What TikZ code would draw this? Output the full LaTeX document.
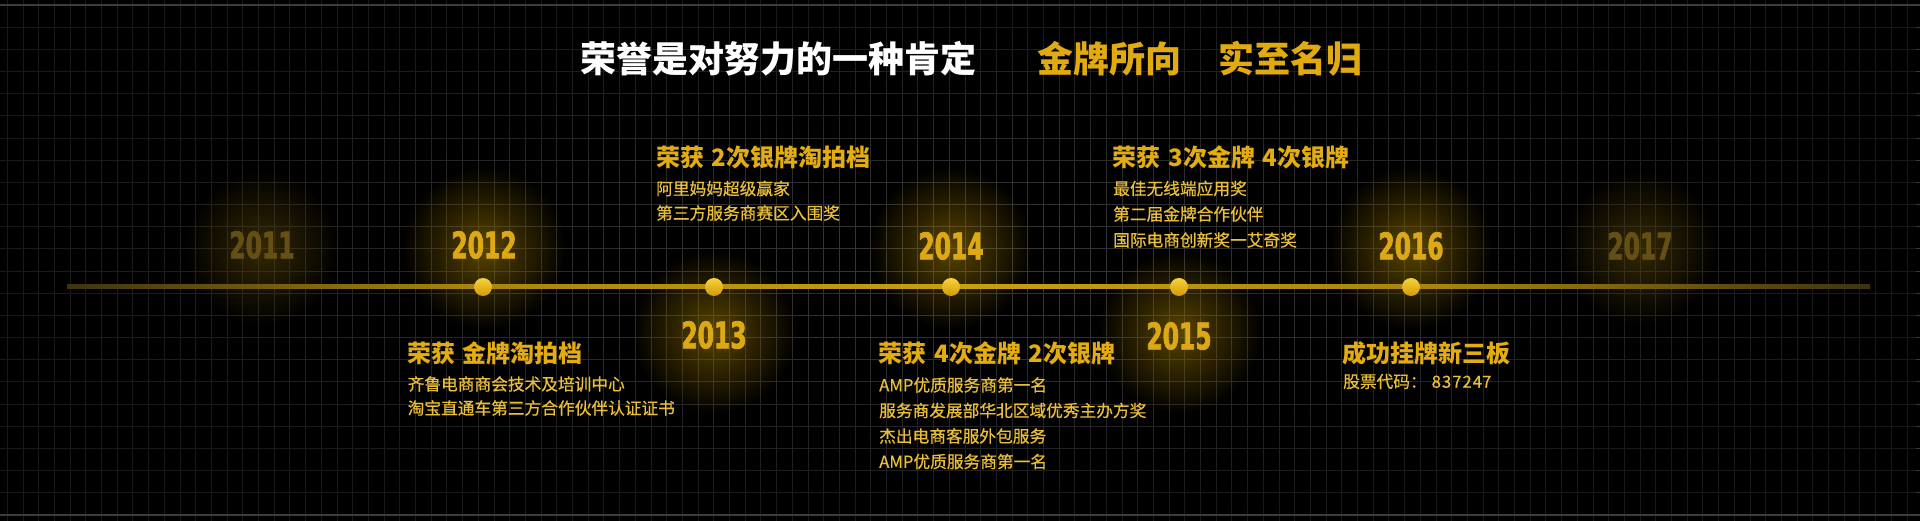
\documentclass[tikz,border=0pt]{standalone}
\usepackage{fontspec}
\usepackage{graphicx}
\newfontfamily\cjk{Noto Sans CJK SC}
\newfontfamily\cjkbody{Noto Sans CJK SC}[FakeBold=0.6]
\newfontfamily\yearfont{DejaVu Sans Bold}[FakeStretch=0.64,FakeBold=2]
\usetikzlibrary{fadings}
\definecolor{gridc}{HTML}{383838}
\definecolor{edgec}{HTML}{3C3C3C}
\definecolor{headc}{HTML}{E2AC12}
\definecolor{headtop}{HTML}{F6CA2A}
\definecolor{headbot}{HTML}{BF8804}
\definecolor{bodyc}{HTML}{E9BE3A}
\definecolor{goldc}{HTML}{E0AA10}
\definecolor{goldtop}{HTML}{F4C622}
\definecolor{goldbot}{HTML}{C48E02}
\definecolor{yearc}{HTML}{DCA816}
\definecolor{yeartop}{HTML}{F6CC30}
\definecolor{yearbot}{HTML}{A87806}
\definecolor{yeardim}{HTML}{645014}
\definecolor{dimtop}{HTML}{7A651C}
\definecolor{dimbot}{HTML}{3E320C}
\definecolor{glowc}{HTML}{9A7600}
\definecolor{glowdim}{HTML}{5A4608}
\definecolor{lineend}{HTML}{3E330C}
\definecolor{lineside}{HTML}{A8840E}
\definecolor{linemid}{HTML}{C89E12}
\definecolor{dottop}{HTML}{F8D23C}
\definecolor{dotbot}{HTML}{D09A08}
\pgfdeclarehorizontalshading{lineshade}{100bp}{color(0bp)=(lineend); color(25bp)=(lineend); color(36bp)=(lineside); color(50bp)=(linemid); color(63bp)=(lineside); color(75bp)=(lineend); color(100bp)=(lineend)}
\tikzfading[name=vig, inner color=transparent!100, outer color=transparent!45]
\tikzfading[name=glowfade, inner color=transparent!42, outer color=transparent!100]
\newcommand\hsp{\hspace{0.32em}}
\newcommand\ttlfont{\cjk\bfseries\fontsize{36}{40}\selectfont}
\newcommand\headfont{\cjk\bfseries\fontsize{24}{28}\selectfont}
\newcommand\yrfont{\yearfont\fontsize{36.6}{40}\selectfont}
\newcommand\mkfade[3]{%
  \begin{tikzfadingfrompicture}[name=#1]
    \node[text=transparent!0, inner sep=0pt, font=#2] {#3};
  \end{tikzfadingfrompicture}}
\mkfade{f2011}{\yrfont}{2011}
\mkfade{f2012}{\yrfont}{2012}
\mkfade{f2013}{\yrfont}{2013}
\mkfade{f2014}{\yrfont}{2014}
\mkfade{f2015}{\yrfont}{2015}
\mkfade{f2016}{\yrfont}{2016}
\mkfade{f2017}{\yrfont}{2017}
\mkfade{ft2}{\ttlfont}{金牌所向}
\mkfade{ft3}{\ttlfont}{实至名归}
\mkfade{fa0}{\headfont}{荣获\hsp 金牌淘拍档}
\mkfade{fb0}{\headfont}{荣获\hsp 2次银牌淘拍档}
\mkfade{fc0}{\headfont}{荣获\hsp 4次金牌\hsp 2次银牌}
\mkfade{fe0}{\headfont}{荣获\hsp 3次金牌\hsp 4次银牌}
\mkfade{ff0}{\headfont}{成功挂牌新三板}
\begin{document}
\begin{tikzpicture}[x=1pt,y=-1pt,
  gridline/.style={draw=gridc, line width=1pt},
  edgeline/.style={draw=edgec, line width=2pt},
  ttl/.style={anchor=west, inner sep=0pt, font=\ttlfont},
  head/.style={anchor=west, inner sep=0pt, text=headc, font=\headfont},
  body/.style={anchor=west, inner sep=0pt, text=bodyc, font=\cjkbody\fontsize{16.7}{20}\selectfont},
  year/.style={anchor=center, inner sep=0pt, text=yearc, font=\yrfont},
  dimyear/.style={year, text=yeardim},
  glow/.style={fill=glowc, path fading=glowfade},
  dimglow/.style={fill=glowdim, path fading=glowfade},
  dot/.style={top color=dottop, bottom color=dotbot},
  gshade/.style={top color=yeartop, bottom color=yearbot, fit fading=false},
  dshade/.style={top color=dimtop, bottom color=dimbot, fit fading=false},
  hshade/.style={top color=headtop, bottom color=headbot, fit fading=false},
  tshade/.style={top color=goldtop, bottom color=goldbot, fit fading=false}]
\useasboundingbox (0,0) rectangle (1920,521);
\fill[black] (0,0) rectangle (1920,521);
% grid
\foreach \i in {0,...,121} \draw[gridline] ({7.3+15.7*\i},0) -- ({7.3+15.7*\i},521);
\foreach \j in {1,...,22} \draw[gridline] (0,{5+22.17*\j}) -- (1920,{5+22.17*\j});
\fill[black, path fading=vig] (0,0) rectangle (1920,521);
\draw[edgeline] (0,5) -- (1920,5);
\draw[edgeline] (0,515) -- (1920,515);
% glows
\fill[dimglow] (262,248) circle (78);
\fill[glow] (484,248) circle (82);
\fill[glow] (714,332) circle (82);
\fill[glow] (951,248) circle (82);
\fill[glow] (1179,332) circle (82);
\fill[glow] (1411,248) circle (82);
\fill[dimglow] (1640,248) circle (78);
% timeline
\coordinate (L0) at (67,287);
\coordinate (L1) at (1870,287);
\shade[shading=lineshade] (67,285) rectangle (1870,289);
\foreach \n/\x in {d2012/483,d2013/714,d2014/951,d2015/1179,d2016/1411}
  \shade[dot] (\x,287) circle (9) coordinate (\n);
% years
\node[dimyear] (y2011) at (262,245) {2011};
\node[year] (y2012) at (484,245) {2012};
\node[year] (y2013) at (714,335) {2013};
\node[year] (y2014) at (951,246) {2014};
\node[year] (y2015) at (1179,336) {2015};
\node[year] (y2016) at (1411,246) {2016};
\node[dimyear] (y2017) at (1640,246) {2017};
\shade[dshade, path fading=f2011] (y2011.south west) rectangle (y2011.north east);
\shade[gshade, path fading=f2012] (y2012.south west) rectangle (y2012.north east);
\shade[gshade, path fading=f2013] (y2013.south west) rectangle (y2013.north east);
\shade[gshade, path fading=f2014] (y2014.south west) rectangle (y2014.north east);
\shade[gshade, path fading=f2015] (y2015.south west) rectangle (y2015.north east);
\shade[gshade, path fading=f2016] (y2016.south west) rectangle (y2016.north east);
\shade[dshade, path fading=f2017] (y2017.south west) rectangle (y2017.north east);
% title
\node[ttl, text=white] (t1) at (580.5,59) {荣誉是对努力的一种肯定};
\node[ttl, text=goldc] (t2) at (1037.5,59) {金牌所向};
\node[ttl, text=goldc] (t3) at (1218,59) {实至名归};
\shade[tshade, path fading=ft2] (t2.south west) rectangle (t2.north east);
\shade[tshade, path fading=ft3] (t3.south west) rectangle (t3.north east);
% block 2012
\node[head] (a0) at (407,353) {荣获\hsp 金牌淘拍档};
\node[body] (a1) at (407.5,384) {齐鲁电商商会技术及培训中心};
\node[body] (a2) at (407.5,408) {淘宝直通车第三方合作伙伴认证证书};
% block 2013
\node[head] (b0) at (656,157.5) {荣获\hsp 2次银牌淘拍档};
\node[body] (b1) at (656,188.5) {阿里妈妈超级赢家};
\node[body] (b2) at (656,213) {第三方服务商赛区入围奖};
% block 2014
\node[head] (c0) at (878.5,353.5) {荣获\hsp 4次金牌\hsp 2次银牌};
\node[body] (c1) at (879,385) {AMP优质服务商第一名};
\node[body] (c2) at (879,410.5) {服务商发展部华北区域优秀主办方奖};
\node[body] (c3) at (879,436) {杰出电商客服外包服务};
\node[body] (c4) at (879,461.5) {AMP优质服务商第一名};
% block 2015
\node[head] (e0) at (1112.5,157.5) {荣获\hsp 3次金牌\hsp 4次银牌};
\node[body] (e1) at (1113,188.5) {最佳无线端应用奖};
\node[body] (e2) at (1113,214) {第二届金牌合作伙伴};
\node[body] (e3) at (1113,240) {国际电商创新奖一艾奇奖};
% block 2016
\node[head] (f0) at (1342.5,353.5) {成功挂牌新三板};
\node[body] (f1) at (1343,381.5) {股票代码：\hspace{5pt}{\addfontfeature{LetterSpace=6}83724}7};
% heading gradients
\shade[hshade, path fading=fa0] (a0.south west) rectangle (a0.north east);
\shade[hshade, path fading=fb0] (b0.south west) rectangle (b0.north east);
\shade[hshade, path fading=fc0] (c0.south west) rectangle (c0.north east);
\shade[hshade, path fading=fe0] (e0.south west) rectangle (e0.north east);
\shade[hshade, path fading=ff0] (f0.south west) rectangle (f0.north east);
\end{tikzpicture}
\end{document}
